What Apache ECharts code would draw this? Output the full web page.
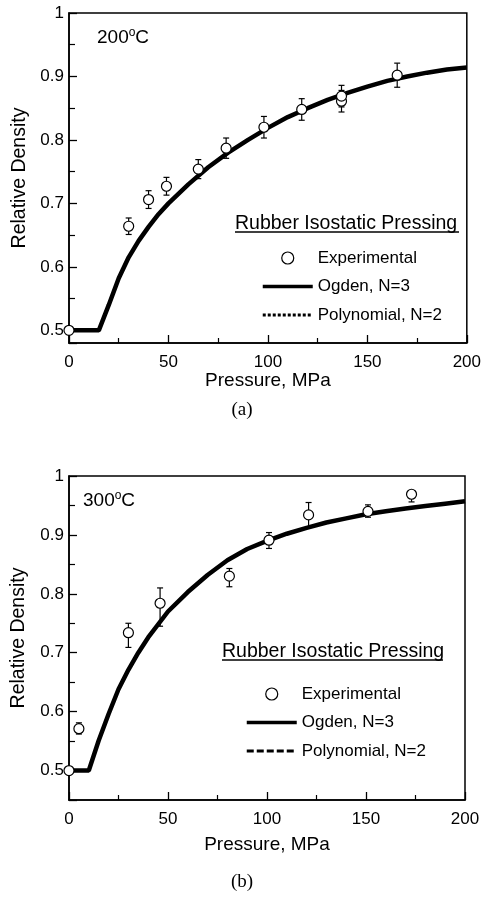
<!DOCTYPE html>
<html>
<head>
<meta charset="utf-8">
<script src="https://cdn.jsdelivr.net/npm/echarts@6/dist/echarts.min.js"></script>
<style>
  html, body { margin: 0; padding: 0; background: #fff; }
  #chart { width: 484px; height: 897px; }
</style>
</head>
<body>
<div id="chart"></div>
<script>
// (a) 200°C
const expA_x = [0, 30, 40, 49, 65, 79, 98, 117, 137, 137, 165];
const expA_y = [0.5, 0.664, 0.706, 0.727, 0.754, 0.787, 0.820, 0.848, 0.861, 0.869, 0.902];
const errA = [0, 0.013, 0.014, 0.014, 0.015, 0.016, 0.017, 0.017, 0.017, 0.017, 0.019];
const curveA_x = [0, 15, 20, 25, 30, 35, 40, 45, 50, 60, 70, 80, 90, 100, 110, 120, 130, 140, 150, 160, 170, 180, 190, 200];
const curveA_y = [0.5, 0.5, 0.54, 0.582, 0.615, 0.641, 0.663, 0.683, 0.70, 0.73, 0.757, 0.780, 0.800, 0.819, 0.836, 0.850, 0.863, 0.874, 0.884, 0.893, 0.900, 0.906, 0.911, 0.914];

// (b) 300°C
const expB_x = [0, 5, 30, 46, 81, 101, 121, 151, 173];
const expB_y = [0.5, 0.571, 0.734, 0.784, 0.830, 0.891, 0.934, 0.940, 0.969];
const errB_lo = [0.5, 0.562, 0.709, 0.745, 0.812, 0.877, 0.913, 0.930, 0.956];
const errB_hi = [0.5, 0.581, 0.750, 0.810, 0.843, 0.904, 0.955, 0.951, 0.975];
const curveB_x = [0, 10, 15, 20, 25, 30, 35, 40, 50, 60, 70, 80, 90, 100, 110, 120, 130, 140, 150, 160, 170, 180, 190, 200];
const curveB_y = [0.5, 0.5, 0.551, 0.596, 0.638, 0.671, 0.70, 0.726, 0.77, 0.803, 0.832, 0.857, 0.876, 0.890, 0.902, 0.912, 0.921, 0.928, 0.935, 0.940, 0.945, 0.949, 0.953, 0.957];

const xTicks = [0, 50, 100, 150, 200];

const FONT = 'Liberation Sans, Arial, sans-serif';
const SERIF = 'Liberation Serif, Times New Roman, serif';
const zip = (xs, ys) => xs.map((x, i) => [x, ys[i]]);

const errorBars = (gi, rows) => ({
  type: 'custom',
  xAxisIndex: gi,
  yAxisIndex: gi,
  silent: true,
  z: 3,
  renderItem: (params, api) => {
    const x = api.value(0);
    const lo = api.coord([x, api.value(1)]);
    const hi = api.coord([x, api.value(2)]);
    const w = 3;
    const st = { stroke: '#000', lineWidth: 1.2 };
    return {
      type: 'group',
      children: [
        { type: 'line', shape: { x1: lo[0], y1: lo[1], x2: hi[0], y2: hi[1] }, style: st },
        { type: 'line', shape: { x1: lo[0] - w, y1: lo[1], x2: lo[0] + w, y2: lo[1] }, style: st },
        { type: 'line', shape: { x1: hi[0] - w, y1: hi[1], x2: hi[0] + w, y2: hi[1] }, style: st }
      ]
    };
  },
  data: rows
});

const xAxis = (gi, gap) => ({
  type: 'value',
  gridIndex: gi,
  min: 0,
  max: 200,
  interval: 50,
  name: 'Pressure, MPa',
  nameLocation: 'middle',
  nameGap: gap,
  nameTextStyle: { fontFamily: FONT, fontSize: 19, color: '#000' },
  axisLine: { show: true, lineStyle: { color: '#000', width: 1.5 } },
  axisTick: { inside: true, length: 8, lineStyle: { color: '#000', width: 1.3 } },
  minorTick: { show: true, splitNumber: 2, length: 5, lineStyle: { color: '#000', width: 1.2 } },
  axisLabel: { fontFamily: FONT, fontSize: 17, color: '#000', margin: 10.5,
    formatter: v => xTicks.includes(v) ? String(v) : '' },
  splitLine: { show: false }
});

const yAxis = (gi, min, gap) => ({
  type: 'value',
  gridIndex: gi,
  min: min,
  max: 1,
  splitNumber: 5,
  name: 'Relative Density',
  nameLocation: 'middle',
  nameGap: gap,
  nameTextStyle: { fontFamily: FONT, fontSize: 19.5, color: '#000' },
  axisLine: { show: true, lineStyle: { color: '#000', width: 1.5 } },
  axisTick: { inside: true, length: 8, lineStyle: { color: '#000', width: 1.3 } },
  minorTick: { show: true, splitNumber: 2, length: 6, lineStyle: { color: '#000', width: 1.2 } },
  axisLabel: { fontFamily: FONT, fontSize: 17, color: '#000', margin: 5,
    formatter: v => {
      const r = Math.round(v * 10) / 10;
      if (Math.abs(r - v) > 1e-6) return '';
      return r === 1 ? '1' : r.toFixed(1);
    } },
  splitLine: { show: false }
});

const curveSeries = (gi, data) => [
  {
    name: 'Polynomial, N=2', type: 'line', xAxisIndex: gi, yAxisIndex: gi,
    data: data, showSymbol: false, symbol: 'none', z: 2,
    itemStyle: { color: '#000' },
    lineStyle: { color: '#000', width: 2, type: [4, 2] }
  },
  {
    name: 'Ogden, N=3', type: 'line', xAxisIndex: gi, yAxisIndex: gi,
    data: data, showSymbol: false, symbol: 'none', z: 2,
    itemStyle: { color: '#000' },
    lineStyle: { color: '#000', width: 4.5 }
  }
];

const scatterSeries = (gi, data) => ({
  name: 'Experimental', type: 'scatter', xAxisIndex: gi, yAxisIndex: gi,
  data: data, symbol: 'circle', symbolSize: 10, z: 5,
  itemStyle: { color: '#fff', borderColor: '#000', borderWidth: 1.2, opacity: 1 }
});

const noDot = { color: 'transparent', borderColor: 'transparent', borderWidth: 0 };

const legend = (left, top, dash) => ({
  left: left,
  top: top,
  padding: 0,
  orient: 'vertical',
  itemWidth: 50,
  itemHeight: 12,
  itemGap: 10.5,
  selectedMode: false,
  textStyle: { fontFamily: FONT, fontSize: 17, color: '#000', lineHeight: 18 },
  data: [
    { name: 'Experimental', icon: 'circle', itemStyle: { color: '#fff', borderColor: '#000', borderWidth: 1.2 } },
    { name: 'Ogden, N=3', itemStyle: noDot, lineStyle: { width: 3.5, color: '#000' } },
    { name: 'Polynomial, N=2', itemStyle: noDot, lineStyle: { width: 3, color: '#000', type: dash } }
  ]
});

const tempLabel = (text, left, top) => ({
  type: 'text', left: left, top: top,
  style: { text: text, font: '19px ' + FONT, fill: '#000',
    rich: { s: { fontSize: 12, fontFamily: FONT, verticalAlign: 'top', padding: [0, 0, 9, 0] } } }
});

const chart = echarts.init(document.getElementById('chart'), null, { renderer: 'canvas' });

chart.setOption({
  backgroundColor: '#fff',
  animation: false,
  grid: [
    { left: 69, top: 13, width: 402, height: 330, show: true, borderColor: '#000', borderWidth: 1.5, backgroundColor: 'transparent' },
    { left: 69, top: 476, width: 396, height: 324, show: true, borderColor: '#000', borderWidth: 1.5, backgroundColor: 'transparent' }
  ],
  xAxis: [xAxis(0, 24), xAxis(1, 35)],
  yAxis: [yAxis(0, 0.48, 37), yAxis(1, 0.45, 40)],
  legend: [legend(261, 249, [3, 2]), legend(245, 685, [7, 3])],
  graphic: [
    tempLabel('200{s|o}C', 97, 27),
    tempLabel('300{s|o}C', 83, 490),
    { type: 'text', left: 235, top: 214, style: { text: 'Rubber Isostatic Pressing', font: '19.5px ' + FONT, fill: '#000' } },
    { type: 'line', shape: { x1: 235, y1: 232, x2: 459, y2: 232 }, style: { stroke: '#000', lineWidth: 1.3 } },
    { type: 'text', left: 222, top: 642, style: { text: 'Rubber Isostatic Pressing', font: '19.5px ' + FONT, fill: '#000' } },
    { type: 'line', shape: { x1: 222, y1: 660, x2: 443, y2: 660 }, style: { stroke: '#000', lineWidth: 1.3 } },
    { type: 'text', left: 'center', top: 401, style: { text: '(a)', font: '19px ' + SERIF, fill: '#000' } },
    { type: 'text', left: 'center', top: 873, style: { text: '(b)', font: '19px ' + SERIF, fill: '#000' } }
  ],
  series: [
    ...curveSeries(0, zip(curveA_x, curveA_y)),
    errorBars(0, expA_x.map((x, i) => [x, expA_y[i] - errA[i], expA_y[i] + errA[i]])),
    scatterSeries(0, zip(expA_x, expA_y)),
    ...curveSeries(1, zip(curveB_x, curveB_y)),
    errorBars(1, expB_x.map((x, i) => [x, errB_lo[i], errB_hi[i]])),
    scatterSeries(1, zip(expB_x, expB_y))
  ]
});
</script>
</body>
</html>
